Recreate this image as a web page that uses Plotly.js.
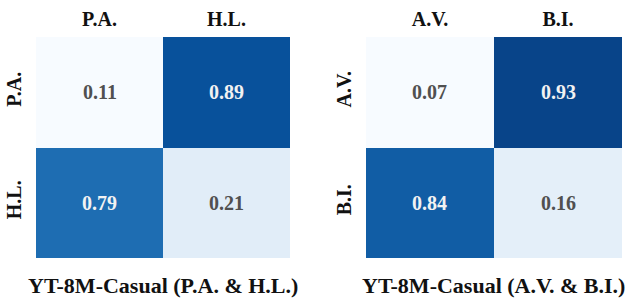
<!DOCTYPE html>
<html>
<head>
<meta charset="utf-8">
<script src="https://cdn.plot.ly/plotly-3.0.1.min.js"></script>
<style>html,body{margin:0;padding:0;background:#fff;}#chart{width:631px;height:304px;}</style>
</head>
<body>
<div id="chart"></div>
<script>
// ---- data ----
const leftLabels = ["P.A.", "H.L."];
const leftValues = [[0.11, 0.89], [0.79, 0.21]];
const leftTitle = "YT-8M-Casual (P.A. & H.L.)";

const rightLabels = ["A.V.", "B.I."];
const rightValues = [[0.07, 0.93], [0.84, 0.16]];
const rightTitle = "YT-8M-Casual (A.V. & B.I.)";

// matplotlib "Blues"
const blues = [
  [0.0, "#f7fbff"], [0.125, "#deebf7"], [0.25, "#c6dbef"], [0.375, "#9ecae1"],
  [0.5, "#6baed6"], [0.625, "#4292c6"], [0.75, "#2171b5"], [0.875, "#08519c"], [1.0, "#08306b"]
];
const FONT = "Liberation Serif";

function hm(labels, vals, xa, ya) {
  const flat = vals.flat();
  return {
    type: "heatmap", x: labels, y: labels, z: vals,
    xaxis: xa, yaxis: ya, colorscale: blues,
    zmin: Math.min(...flat), zmax: 1, showscale: false, hoverinfo: "skip"
  };
}

const data = [hm(leftLabels, leftValues, "x", "y"), hm(rightLabels, rightValues, "x2", "y2")];

const annotations = [];
function addCells(labels, vals, xa, ya) {
  vals.forEach((row, i) => row.forEach((v, j) => {
    annotations.push({
      x: labels[j], y: labels[i], xref: xa, yref: ya, showarrow: false,
      text: "<b>" + v.toFixed(2) + "</b>",
      font: {family: FONT, size: 20, color: v > 0.5 ? "#f2f2f2" : "#505050"}
    });
  }));
}
addCells(leftLabels, leftValues, "x", "y");
addCells(rightLabels, rightValues, "x2", "y2");

annotations.push({xref: "paper", yref: "paper", x: 0.258, y: 0.062, xanchor: "center", yanchor: "middle",
  showarrow: false, text: "<b>" + leftTitle + "</b>", font: {family: FONT, size: 22, color: "#111"}});
annotations.push({xref: "paper", yref: "paper", x: 0.782, y: 0.062, xanchor: "center", yanchor: "middle",
  showarrow: false, text: "<b>" + rightTitle + "</b>", font: {family: FONT, size: 22, color: "#111"}});

const xAxisBase = {side: "top", showgrid: false, zeroline: false, showline: false, ticks: "",
  ticklabelstandoff: 6,
  tickfont: {family: FONT, size: 20, color: "#111", weight: "bold"}, fixedrange: true};
const yAxisBase = {autorange: "reversed", showgrid: false, zeroline: false, showline: false, ticks: "",
  ticklabelstandoff: 10,
  tickangle: -90, tickfont: {family: FONT, size: 20, color: "#111", weight: "bold"}, fixedrange: true};

const layout = {
  width: 631, height: 304,
  margin: {l: 0, r: 0, t: 0, b: 0},
  paper_bgcolor: "#fff", plot_bgcolor: "#fff",
  xaxis: Object.assign({}, xAxisBase, {domain: [36/631, 290/631], anchor: "y"}),
  yaxis: Object.assign({}, yAxisBase, {domain: [46/304, 267/304], anchor: "x"}),
  xaxis2: Object.assign({}, xAxisBase, {domain: [366/631, 622/631], anchor: "y2"}),
  yaxis2: Object.assign({}, yAxisBase, {domain: [46/304, 267/304], anchor: "x2"}),
  annotations: annotations,
  showlegend: false
};

Plotly.newPlot("chart", data, layout, {displayModeBar: false, staticPlot: true});
</script>
</body>
</html>
